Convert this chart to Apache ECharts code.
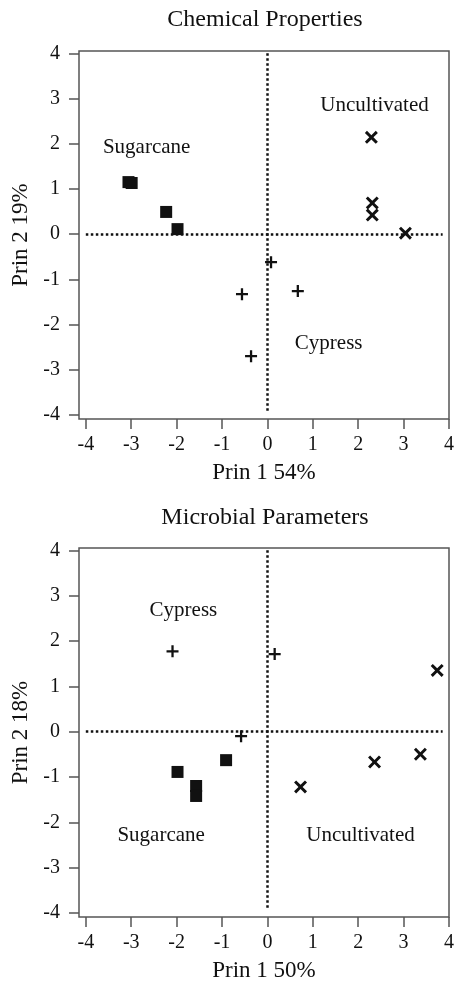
<!DOCTYPE html>
<html lang="en">
<head>
    <meta charset="utf-8">
    <title>PCA plots</title>
    <script src="https://cdn.jsdelivr.net/npm/echarts@6/dist/echarts.min.js"></script>
    <style>
        html, body { margin: 0; padding: 0; background: #fff; }
    </style>
</head>
<body>
    <div id="main" style="width: 457px;height:983px;"></div>
    <script>
    // panel titles and axis names
    var titles = ['Chemical Properties', 'Microbial Parameters']
    var xNames = ['Prin 1 54%', 'Prin 1 50%']
    var yNames = ['Prin 2 19%', 'Prin 2 18%']
    var ticks = [-4, -3, -2, -1, 0, 1, 2, 3, 4]

    // Chemical properties scores [prin1, prin2]
    var chemSugarcane = [[-3.06, 1.15], [-2.99, 1.13], [-2.23, 0.49], [-1.98, 0.11]]
    var chemUncultivated = [[2.29, 2.14], [2.31, 0.69], [2.31, 0.42], [3.04, 0.02]]
    var chemCypress = [[0.08, -0.62], [-0.56, -1.33], [0.67, -1.26], [-0.36, -2.70]]
    var chemText = [[-2.66, 1.92, 'Sugarcane'], [2.36, 2.85, 'Uncultivated'], [1.35, -2.41, 'Cypress']]

    // Microbial parameters scores
    var microSugarcane = [[-1.98, -0.89], [-0.91, -0.63], [-1.57, -1.20], [-1.57, -1.42]]
    var microUncultivated = [[3.74, 1.35], [0.73, -1.22], [2.36, -0.67], [3.37, -0.50]]
    var microCypress = [[-2.09, 1.77], [0.16, 1.71], [-0.58, -0.10]]
    var microText = [[-1.85, 2.68, 'Cypress'], [-2.34, -2.30, 'Sugarcane'], [2.05, -2.30, 'Uncultivated']]

    var font = 'Liberation Serif'
    var ink = '#111'
    var crossPath = 'path://M0,1.6 L1.6,0 L5,3.4 L8.4,0 L10,1.6 L6.6,5 L10,8.4 L8.4,10 L5,6.6 L1.6,10 L0,8.4 L3.4,5 Z'
    var plusPath = 'path://M4.05,0 L5.95,0 L5.95,4.05 L10,4.05 L10,5.95 L5.95,5.95 L5.95,10 L4.05,10 L4.05,5.95 L0,5.95 L0,4.05 L4.05,4.05 Z'

    var myChart = echarts.init(document.getElementById('main'));

    function xAxisFor(i) {
        return {
            gridIndex: i, type: 'value', min: -4.15, max: 4,
            name: xNames[i], nameLocation: 'middle', nameGap: 42,
            nameTextStyle: { fontFamily: font, fontSize: 23, color: ink },
            axisLine: { show: false, onZero: false },
            axisTick: { show: true, length: 10, customValues: ticks, lineStyle: { color: '#555', width: 1.5 } },
            axisLabel: { customValues: ticks, margin: 16, fontFamily: font, fontSize: 20, color: ink },
            splitLine: { show: false }
        }
    }
    function yAxisFor(i) {
        return {
            gridIndex: i, type: 'value', min: -4.09, max: 4.05,
            name: yNames[i], nameLocation: 'middle', nameGap: 44,
            nameTextStyle: { fontFamily: font, fontSize: 23, color: ink },
            axisLine: { show: false, onZero: false },
            axisTick: { show: true, length: 10, customValues: ticks, lineStyle: { color: '#555', width: 1.5 } },
            axisLabel: { customValues: ticks, margin: 19, fontFamily: font, fontSize: 20, color: ink },
            splitLine: { show: false }
        }
    }
    function pointSeries(i, data, symbol, size) {
        return {
            type: 'scatter', xAxisIndex: i, yAxisIndex: i, data: data,
            symbol: symbol, symbolSize: size, silent: true,
            itemStyle: { color: '#111', opacity: 1 }
        }
    }
    function textSeries(i, data) {
        return {
            type: 'scatter', xAxisIndex: i, yAxisIndex: i, data: data,
            symbolSize: 1, silent: true, itemStyle: { color: 'transparent', opacity: 1 },
            label: {
                show: true, position: 'inside', formatter: function (p) { return p.value[2]; },
                fontFamily: font, fontSize: 21, color: ink, textBorderWidth: 0, opacity: 1
            },
            markLine: {
                silent: true, symbol: 'none', label: { show: false },
                lineStyle: { type: 'dotted', width: 2.5, color: '#111' },
                data: [
                    [{ coord: [0, 4] }, { coord: [0, -3.93] }],
                    [{ coord: [-4, 0] }, { coord: [3.86, 0] }]
                ]
            }
        }
    }

    var option = {
        animation: false,
        title: [
            { text: titles[0], left: 265, top: 8, textAlign: 'center', padding: 0,
              textStyle: { fontFamily: font, fontSize: 24, fontWeight: 'normal', color: ink } },
            { text: titles[1], left: 265, top: 506, textAlign: 'center', padding: 0,
              textStyle: { fontFamily: font, fontSize: 24, fontWeight: 'normal', color: ink } }
        ],
        grid: [
            { left: 79, right: 6, top: 51, height: 368, show: true, borderColor: '#555', borderWidth: 1.5, backgroundColor: 'transparent' },
            { left: 79, right: 6, top: 548, height: 370, show: true, borderColor: '#555', borderWidth: 1.5, backgroundColor: 'transparent' }
        ],
        xAxis: [xAxisFor(0), xAxisFor(1)],
        yAxis: [yAxisFor(0), yAxisFor(1)],
        series: [
            textSeries(0, chemText),
            pointSeries(0, chemSugarcane, 'rect', 12),
            pointSeries(0, chemUncultivated, crossPath, 13),
            pointSeries(0, chemCypress, plusPath, 12),
            textSeries(1, microText),
            pointSeries(1, microSugarcane, 'rect', 12),
            pointSeries(1, microUncultivated, crossPath, 13),
            pointSeries(1, microCypress, plusPath, 12)
        ]
    };
    myChart.setOption(option);
    </script>
</body>
</html>
